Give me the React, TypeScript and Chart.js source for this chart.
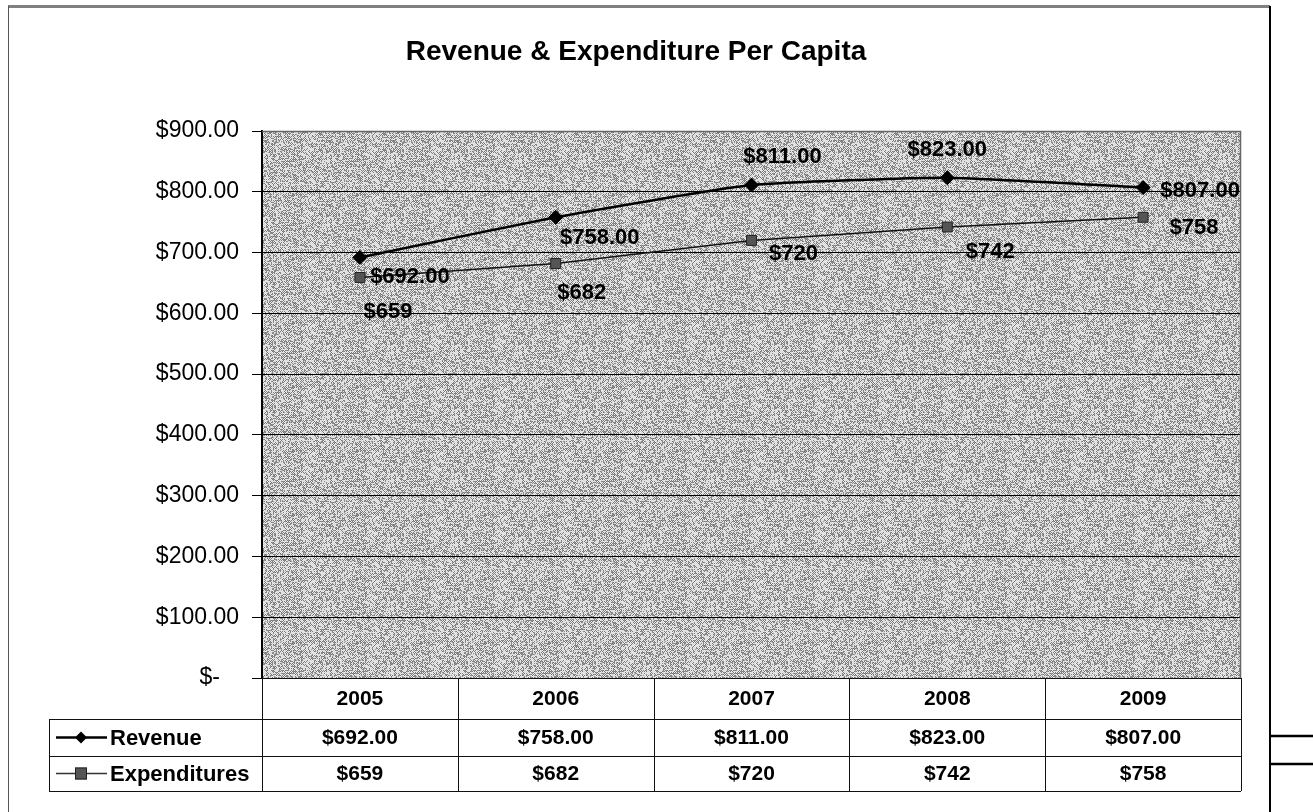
import { useEffect, useRef } from 'react';
import { Chart, registerables } from 'chart.js';

Chart.register(...registerables);

// ---- data ----
const categories = ['2005', '2006', '2007', '2008', '2009'];
const revenue = [692, 758, 811, 823, 807];
const expenditures = [659, 682, 720, 742, 758];
const yMin = 0;
const yMax = 900;
const yStep = 100;
const chartTitle = 'Revenue & Expenditure Per Capita';
const seriesNames = ['Revenue', 'Expenditures'];

// ---- label placement (style only) ----
const revenueLabelOffsets = [
  [50, 20],
  [44, 21],
  [31, -28],
  [0, -28],
  [57, 3],
];
const expenditureLabelOffsets = [
  [28, 34],
  [26, 29],
  [42, 14],
  [43, 25],
  [51, 11],
];

const FONT = '"Liberation Sans", Arial, Helvetica, sans-serif';

const fmtRevenue = (v: number) => '$' + v.toFixed(2);
const fmtExp = (v: number) => '$' + v.toFixed(0);

// texture tile for the plot background (deterministic hash noise, purely decorative)
function makePattern(ctx: CanvasRenderingContext2D) {
  const size = 64;
  const pc = document.createElement('canvas');
  pc.width = size;
  pc.height = size;
  const pctx = pc.getContext('2d')!;
  const img = pctx.createImageData(size, size);
  for (let y = 0; y < size; y++) {
    for (let x = 0; x < size; x++) {
      let h = (x * 374761393 + y * 668265263) | 0;
      h = Math.imul(h ^ (h >>> 13), 1274126177);
      h = (h ^ (h >>> 16)) >>> 0;
      const checker = (x + y) % 2 === 0;
      const r = (h % 1000) / 1000;
      let s: number;
      if (checker) s = r < 0.75 ? 235 : 150;
      else s = r < 0.6 ? 120 : 215;
      const i = (y * size + x) * 4;
      img.data[i] = s;
      img.data[i + 1] = s;
      img.data[i + 2] = s;
      img.data[i + 3] = 255;
    }
  }
  pctx.putImageData(img, 0, 0);
  return ctx.createPattern(pc, 'repeat');
}

export default function App() {
  const ref = useRef<HTMLCanvasElement>(null);

  useEffect(() => {
    const canvas = ref.current!;
    const ctx0 = canvas.getContext('2d')!;
    const pattern = makePattern(ctx0);

    const bgPlugin = {
      id: 'bgPlugin',
      beforeDraw(chart: any) {
        const { ctx, chartArea } = chart;
        ctx.save();
        ctx.fillStyle = '#ffffff';
        ctx.fillRect(0, 0, chart.width, chart.height);
        ctx.fillStyle = pattern || '#b4b4b4';
        ctx.fillRect(chartArea.left, chartArea.top, chartArea.right - chartArea.left, chartArea.bottom - chartArea.top);
        ctx.restore();
      },
    };

    const labelPlugin = {
      id: 'labelPlugin',
      afterDatasetsDraw(chart: any) {
        const { ctx } = chart;
        ctx.save();
        ctx.font = `bold 22px ${FONT}`;
        ctx.fillStyle = '#000';
        ctx.textAlign = 'center';
        ctx.textBaseline = 'middle';
        const m0 = chart.getDatasetMeta(0);
        m0.data.forEach((pt: any, i: number) => {
          const [dx, dy] = revenueLabelOffsets[i];
          ctx.fillText(fmtRevenue(revenue[i]), pt.x + dx, pt.y + dy);
        });
        const m1 = chart.getDatasetMeta(1);
        m1.data.forEach((pt: any, i: number) => {
          const [dx, dy] = expenditureLabelOffsets[i];
          ctx.fillText(fmtExp(expenditures[i]), pt.x + dx, pt.y + dy);
        });
        ctx.restore();
      },
    };

    const framePlugin = {
      id: 'framePlugin',
      afterDraw(chart: any) {
        const { ctx, chartArea } = chart;
        const { left, right, top, bottom } = chartArea;
        ctx.save();

        // plot area top/right border
        ctx.strokeStyle = '#666';
        ctx.lineWidth = 1.5;
        ctx.beginPath();
        ctx.moveTo(left, top + 0.5);
        ctx.lineTo(right - 0.5, top + 0.5);
        ctx.lineTo(right - 0.5, bottom);
        ctx.stroke();

        // outer frame
        ctx.strokeStyle = '#808080';
        ctx.lineWidth = 3;
        ctx.beginPath();
        ctx.moveTo(8, 6.5);
        ctx.lineTo(1270, 6.5);
        ctx.stroke();
        ctx.strokeStyle = '#000';
        ctx.lineWidth = 2;
        ctx.beginPath();
        ctx.moveTo(1270, 6);
        ctx.lineTo(1270, 812);
        ctx.stroke();
        ctx.strokeStyle = '#555';
        ctx.lineWidth = 1;
        ctx.beginPath();
        ctx.moveTo(8.5, 6);
        ctx.lineTo(8.5, 812);
        ctx.stroke();
        // stubs at right
        ctx.strokeStyle = '#000';
        ctx.lineWidth = 2.5;
        ctx.beginPath();
        ctx.moveTo(1270, 736);
        ctx.lineTo(1313, 736);
        ctx.moveTo(1270, 764);
        ctx.lineTo(1313, 764);
        ctx.stroke();

        // title
        ctx.fillStyle = '#000';
        ctx.font = `bold 28px ${FONT}`;
        ctx.textAlign = 'center';
        ctx.textBaseline = 'middle';
        ctx.fillText(chartTitle, 636, 52);

        // data table
        const n = categories.length;
        const colW = (right - left) / n;
        const y0 = bottom;
        const y1 = 719;
        const y2 = 756;
        const y3 = 791;
        const legendLeft = 49;
        ctx.strokeStyle = '#111';
        ctx.lineWidth = 1;
        ctx.beginPath();
        ctx.moveTo(left, y0 + 0.5);
        ctx.lineTo(right, y0 + 0.5);
        [y1, y2, y3].forEach((y) => {
          ctx.moveTo(legendLeft, y + 0.5);
          ctx.lineTo(right, y + 0.5);
        });
        ctx.moveTo(legendLeft + 0.5, y1);
        ctx.lineTo(legendLeft + 0.5, y3);
        for (let i = 0; i <= n; i++) {
          const x = Math.round(left + i * colW) + 0.5;
          ctx.moveTo(x, y0);
          ctx.lineTo(x, y3);
        }
        ctx.stroke();

        ctx.font = `bold 21px ${FONT}`;
        ctx.textAlign = 'center';
        ctx.textBaseline = 'middle';
        const xs = chart.scales.x;
        categories.forEach((c, i) => {
          const cx = xs.getPixelForValue(i);
          ctx.fillText(c, cx, (y0 + y1) / 2 + 1);
          ctx.fillText(fmtRevenue(revenue[i]), cx, (y1 + y2) / 2 + 1);
          ctx.fillText(fmtExp(expenditures[i]), cx, (y2 + y3) / 2 + 1);
        });

        // legend keys
        const ry = (y1 + y2) / 2;
        const ey = (y2 + y3) / 2;
        ctx.strokeStyle = '#000';
        ctx.lineWidth = 2.5;
        ctx.beginPath();
        ctx.moveTo(56, ry);
        ctx.lineTo(107, ry);
        ctx.stroke();
        ctx.fillStyle = '#000';
        ctx.beginPath();
        ctx.moveTo(81, ry - 6);
        ctx.lineTo(87, ry);
        ctx.lineTo(81, ry + 6);
        ctx.lineTo(75, ry);
        ctx.closePath();
        ctx.fill();

        ctx.strokeStyle = '#333';
        ctx.lineWidth = 1.5;
        ctx.beginPath();
        ctx.moveTo(56, ey);
        ctx.lineTo(107, ey);
        ctx.stroke();
        ctx.fillStyle = '#555';
        ctx.fillRect(75, ey - 6, 12, 12);
        ctx.strokeStyle = '#222';
        ctx.lineWidth = 1;
        ctx.strokeRect(75.5, ey - 5.5, 11, 11);

        ctx.fillStyle = '#000';
        ctx.font = `bold 22px ${FONT}`;
        ctx.textAlign = 'left';
        ctx.fillText(seriesNames[0], 110, ry + 1);
        ctx.fillText(seriesNames[1], 110, ey + 1);

        ctx.restore();
      },
    };

    const chart = new Chart(canvas, {
      type: 'line',
      data: {
        labels: categories,
        datasets: [
          {
            label: seriesNames[0],
            data: revenue,
            borderColor: '#000',
            borderWidth: 2.5,
            tension: 0.15,
            pointStyle: 'rectRot',
            pointRadius: 7,
            pointBackgroundColor: '#000',
            pointBorderColor: '#000',
            pointBorderWidth: 1,
            fill: false,
          },
          {
            label: seriesNames[1],
            data: expenditures,
            borderColor: '#111',
            borderWidth: 1.5,
            tension: 0,
            pointStyle: 'rect',
            pointRadius: 7,
            pointBackgroundColor: '#555',
            pointBorderColor: '#222',
            pointBorderWidth: 1,
            fill: false,
          },
        ],
      },
      options: {
        animation: false,
        responsive: false,
        devicePixelRatio: 1,
        layout: { padding: { top: 131, right: 72, bottom: 134, left: 0 } },
        plugins: {
          legend: { display: false },
          tooltip: { enabled: false },
          title: { display: false },
        },
        scales: {
          x: { display: false, offset: true },
          y: {
            min: yMin,
            max: yMax,
            ticks: {
              stepSize: yStep,
              color: '#000',
              font: { family: FONT, size: 23 },
              padding: 13,
              callback: (v: any) => (Number(v) === 0 ? '$-   ' : '$' + Number(v).toFixed(2)),
            },
            grid: { color: '#000', lineWidth: 1, tickLength: 10, drawTicks: true },
            border: { display: true, color: '#000', width: 2 },
            afterFit: (s: any) => {
              s.width = 262;
            },
          },
        },
      },
      plugins: [bgPlugin, labelPlugin, framePlugin],
    } as any);

    return () => chart.destroy();
  }, []);

  return (
    <div style={{ position: 'absolute', left: 0, top: 0, width: 1313, height: 812, background: '#fff' }}>
      <canvas ref={ref} width={1313} height={812} style={{ display: 'block', width: 1313, height: 812 }} />
    </div>
  );
}
